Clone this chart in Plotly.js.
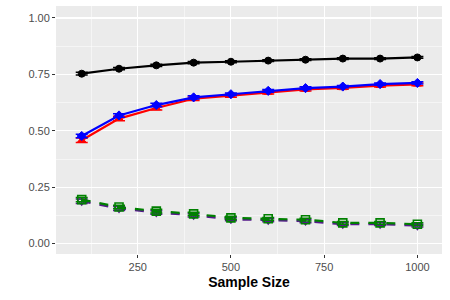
<!DOCTYPE html>
<html>
<head>
<meta charset="utf-8">
<script src="https://cdn.plot.ly/plotly-3.0.1.min.js"></script>
<style>html,body{margin:0;padding:0;background:#fff;}#chart{width:450px;height:300px;}</style>
</head>
<body>
<div id="chart"></div>
<script>
const sampleSize = [100, 200, 300, 400, 500, 600, 700, 800, 900, 1000];

const blackVals  = [0.753, 0.775, 0.790, 0.802, 0.806, 0.811, 0.815, 0.820, 0.820, 0.825];
const blackErr   = [0.006, 0.005, 0.005, 0.005, 0.004, 0.004, 0.004, 0.004, 0.004, 0.004];

const redVals    = [0.458, 0.554, 0.601, 0.642, 0.656, 0.670, 0.683, 0.690, 0.700, 0.706];
const redErr     = [0.010, 0.010, 0.009, 0.008, 0.007, 0.007, 0.007, 0.006, 0.006, 0.006];

const blueVals   = [0.477, 0.568, 0.614, 0.648, 0.662, 0.677, 0.689, 0.696, 0.707, 0.712];
const blueErr    = [0.008, 0.008, 0.008, 0.007, 0.006, 0.006, 0.006, 0.005, 0.005, 0.005];

const purpleVals = [0.188, 0.156, 0.138, 0.126, 0.108, 0.104, 0.100, 0.086, 0.086, 0.080];
const purpleErr  = [0.010, 0.009, 0.008, 0.008, 0.007, 0.007, 0.007, 0.006, 0.006, 0.006];

const greenVals  = [0.195, 0.162, 0.144, 0.132, 0.114, 0.110, 0.106, 0.092, 0.092, 0.086];
const greenErr   = [0.009, 0.008, 0.008, 0.007, 0.007, 0.006, 0.006, 0.006, 0.006, 0.006];

const xTicks = [250, 500, 750, 1000];
const yTicks = [0, 0.25, 0.5, 0.75, 1];
const yTickText = ['0.00', '0.25', '0.50', '0.75', '1.00'];

function tr(y, err, color, symbol, dash, size, lw) {
  return {
    x: sampleSize, y: y, type: 'scatter', mode: 'lines+markers',
    line: {color: color, width: 2.2, dash: dash},
    marker: {color: color, symbol: symbol, size: size, line: {color: color, width: lw}},
    error_y: {type: 'data', array: err, visible: true, color: color, thickness: 1.5, width: 6},
    showlegend: false, hoverinfo: 'none'
  };
}

const data = [
  tr(blackVals, blackErr, '#000000', 'circle', 'solid', 7, 1),
  tr(redVals, redErr, '#FF0000', 'triangle-up', 'solid', 7, 1),
  tr(blueVals, blueErr, '#0000FF', 'diamond', 'solid', 7, 1),
  tr(purpleVals, purpleErr, '#551A8B', 'triangle-down-open', 'dash', 8, 1.3),
  tr(greenVals, greenErr, '#008000', 'square-open', 'dash', 8, 1.6)
];

const layout = {
  width: 450, height: 300,
  margin: {l: 56, r: 8, t: 6, b: 46},
  paper_bgcolor: '#FFFFFF', plot_bgcolor: '#EBEBEB',
  font: {family: 'Liberation Sans, Arial, sans-serif', size: 11, color: '#4D4D4D'},
  xaxis: {
    range: [31, 1066], tickvals: xTicks, ticktext: xTicks.map(String),
    showgrid: true, gridcolor: '#FFFFFF', gridwidth: 1.1, zeroline: false,
    ticks: 'outside', ticklen: 3, tickwidth: 1, tickcolor: '#333333',
    tickfont: {size: 11, color: '#4D4D4D'},
    minor: {tickvals: [125, 375, 625, 875], showgrid: true, gridcolor: '#FFFFFF', gridwidth: 0.5, ticks: ''},
    showline: false,
    title: {text: '<b>Sample Size</b>', font: {size: 14, color: '#000000'}, standoff: 4}
  },
  yaxis: {
    range: [-0.046, 1.053], tickvals: yTicks, ticktext: yTickText,
    showgrid: true, gridcolor: '#FFFFFF', gridwidth: 1.1, zeroline: false,
    ticks: 'outside', ticklen: 3, tickwidth: 1, tickcolor: '#333333',
    tickfont: {size: 11, color: '#4D4D4D'},
    minor: {tickvals: [0.125, 0.375, 0.625, 0.875], showgrid: true, gridcolor: '#FFFFFF', gridwidth: 0.5, ticks: ''},
    showline: false
  }
};

Plotly.newPlot('chart', data, layout, {staticPlot: true, displayModeBar: false});
</script>
</body>
</html>
